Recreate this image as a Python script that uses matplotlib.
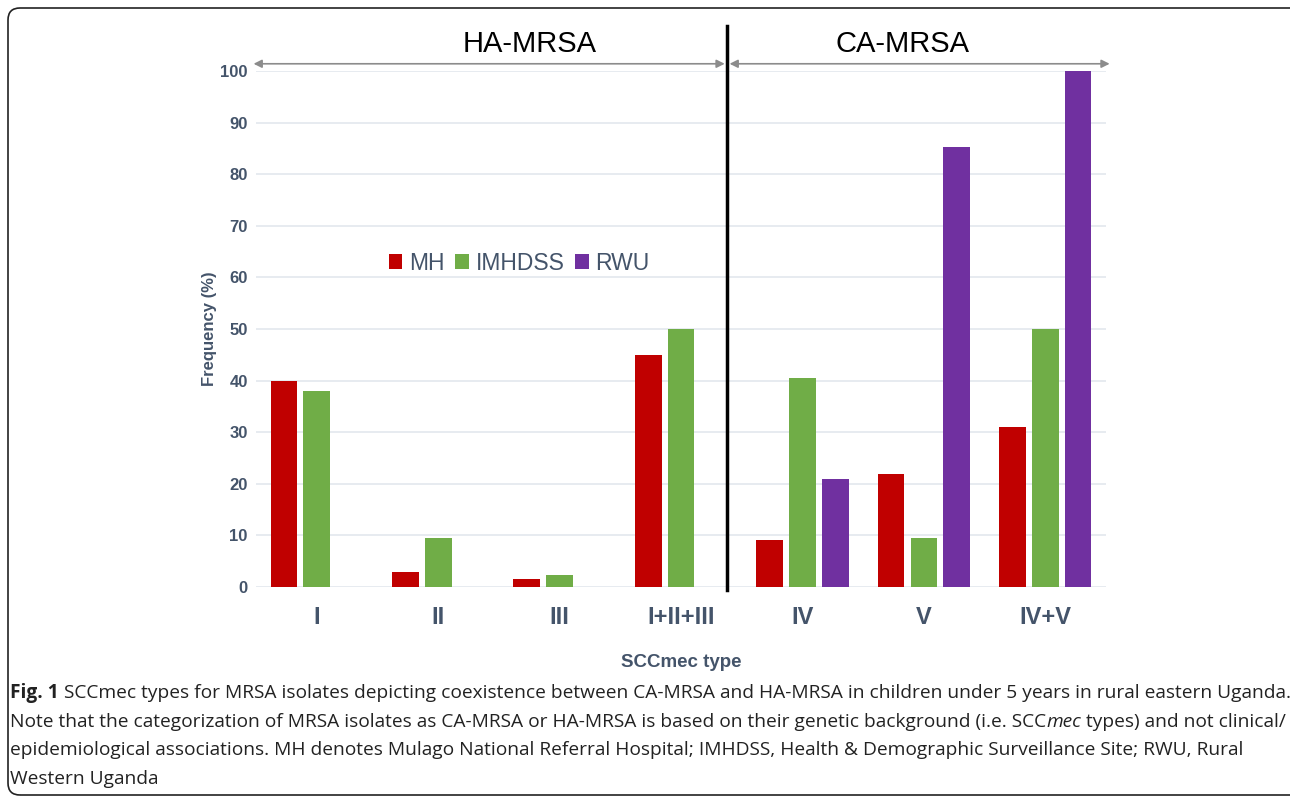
import matplotlib
matplotlib.use("Agg")
import matplotlib.pyplot as plt
from matplotlib import font_manager
from matplotlib.patches import FancyBboxPatch
from matplotlib.transforms import IdentityTransform
import numpy as np

categories = ["I", "II", "III", "I+II+III", "IV", "V", "IV+V"]
series_names = ["MH", "IMHDSS", "RWU"]
mh = [40, 2.9, 1.5, 45, 9.1, 21.9, 31]
imhdss = [38, 9.5, 2.3, 50, 40.5, 9.5, 50]
rwu = [0, 0, 0, 0, 20.9, 85.3, 100]
colors = ["#C00000", "#70AD47", "#7030A0"]
yticks = list(range(0, 101, 10))

names = {f.name for f in font_manager.fontManager.ttflist}
SANS = "Liberation Sans" if "Liberation Sans" in names else "DejaVu Sans"
CAP = "Liberation Sans Narrow" if "Liberation Sans Narrow" in names else "Open Sans"

W, H = 1290, 797
fig = plt.figure(figsize=(W / 100, H / 100), dpi=100)
ax = fig.add_axes([256 / W, 1 - 587 / H, (1106 - 256) / W, (587 - 71) / H])

tc = "#44546A"
x = np.arange(len(categories))
bw = 0.22
off = 0.27
for i, (vals, c, n) in enumerate(zip([mh, imhdss, rwu], colors, series_names)):
    ax.bar(x + (i - 1) * off, vals, width=bw, color=c, label=n, zorder=3)

ax.set_xlim(-0.5, len(categories) - 0.5)
ax.set_ylim(0, 100)
ax.set_yticks(yticks)
ax.set_yticklabels([str(t) for t in yticks], fontsize=12, fontweight="bold", color=tc, family=SANS)
ax.set_xticks(x)
ax.set_xticklabels(categories, fontsize=17, fontweight="bold", color=tc, family=SANS)
ax.tick_params(axis="both", length=0)
ax.tick_params(axis="y", pad=6)
ax.tick_params(axis="x", pad=14)
ax.grid(axis="y", color="#E3E8EE", lw=1.2, zorder=0)
for s in ax.spines.values():
    s.set_visible(False)
ax.set_ylabel("Frequency (%)", fontsize=12, fontweight="bold", color=tc, family=SANS, labelpad=2)
ax.set_xlabel("SCCmec type", fontsize=13.5, fontweight="bold", color=tc, family=SANS, labelpad=18)

leg = ax.legend(loc="upper left", bbox_to_anchor=((368 - 256) / 850, (587 - 231) / 516),
                ncol=3, frameon=False, handlelength=0.6, handleheight=0.6,
                handletextpad=0.3, columnspacing=0.45, prop={"family": SANS, "size": 16.5})
for t in leg.get_texts():
    t.set_color(tc)

# divider line
xd = 3.38
ax.plot([xd, xd], [-0.6, 108.8], color="black", lw=2.5, clip_on=False, zorder=5)
# arrows
ya = 101.4
arrow_kw = dict(arrowstyle="<|-|>", color="#8C8C8C", lw=1.2, mutation_scale=12, shrinkA=0, shrinkB=0)
ax.annotate("", xy=(-0.52, ya), xytext=(xd - 0.02, ya), arrowprops=arrow_kw, annotation_clip=False)
ax.annotate("", xy=(xd + 0.02, ya), xytext=(6.53, ya), arrowprops=arrow_kw, annotation_clip=False)
ax.text((530 - 256) / 121.43 - 0.5, 105.3, "HA-MRSA", fontsize=21, ha="center", va="center", family=SANS, color="black")
ax.text((903 - 256) / 121.43 - 0.5, 105.3, "CA-MRSA", fontsize=21, ha="center", va="center", family=SANS, color="black")

# frame (pixel coordinates, origin bottom-left)
frame = FancyBboxPatch((8, H - 795), 1310 - 8, 795 - 8,
                       boxstyle="round,pad=0,rounding_size=12", transform=IdentityTransform(),
                       fill=False, ec="#222222", lw=1.2, clip_on=False)
fig.patches.append(frame)

# caption
renderer = fig.canvas.get_renderer()
cap_lines = [
    [("Fig. 1", "bold", "normal"), (" SCCmec types for MRSA isolates depicting coexistence between CA-MRSA and HA-MRSA in children under 5 years in rural eastern Uganda.", "normal", "normal")],
    [("Note that the categorization of MRSA isolates as CA-MRSA or HA-MRSA is based on their genetic background (i.e. SCC", "normal", "normal"), ("mec", "normal", "italic"), (" types) and not clinical/", "normal", "normal")],
    [("epidemiological associations. MH denotes Mulago National Referral Hospital; IMHDSS, Health & Demographic Surveillance Site; RWU, Rural", "normal", "normal")],
    [("Western Uganda", "normal", "normal")],
]
ys = [693, 722, 750, 779]

def draw_line(pieces, y, fs, draw=True):
    xpos = 10
    arts = []
    for txt, wt, st in pieces:
        t = fig.text(xpos / W, 1 - y / H, txt, fontsize=fs, fontweight=wt, fontstyle=st,
                     family=CAP, color="#222222", va="center", ha="left")
        bb = t.get_window_extent(renderer)
        xpos += bb.width
        arts.append(t)
    if not draw:
        for a in arts:
            a.remove()
    return xpos

fs = 13
wtot = draw_line(cap_lines[0], ys[0], fs, draw=False)
fs = fs * (1281 - 10) / (wtot - 10)
for pieces, y in zip(cap_lines, ys):
    draw_line(pieces, y, fs)

fig.savefig("out.png", dpi=100)
